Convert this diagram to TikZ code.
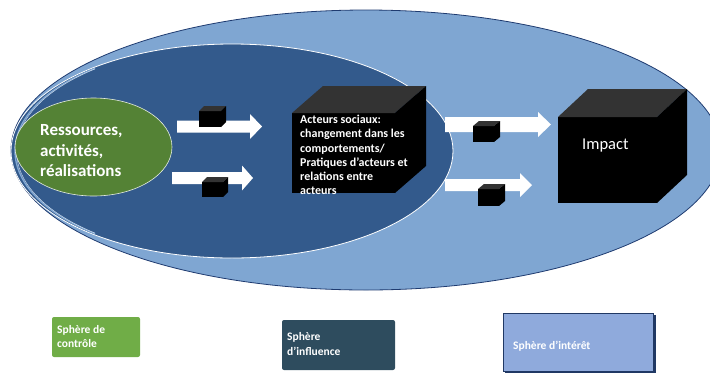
\documentclass[tikz,border=0pt]{standalone}
\usepackage{fontspec}
\setmainfont{Carlito}
\usetikzlibrary{shapes.geometric}

\definecolor{interestfill}{HTML}{7FA6D2}
\definecolor{interestline}{HTML}{1F3B70}
\definecolor{influencefill}{HTML}{335A8C}
\definecolor{controlfill}{HTML}{548235}
\definecolor{keygreen}{HTML}{70AD47}
\definecolor{keydark}{HTML}{2E4C5E}
\definecolor{keyblue}{HTML}{8FAADC}
\definecolor{keyline}{HTML}{203864}
\definecolor{cubetopgrey}{HTML}{333333}

% a cube seen from the front: #1 name, #2,#3 top-left corner of the front face,
% #4 width, #5 height, #6,#7 depth offset (right, up)
\newcommand\drawcube[7]{%
  \node[cubefront, minimum width=#4pt, minimum height=#5pt, anchor=north west] (#1) at (#2,#3) {};
  \fill[cubetopgrey] (#1.north west) -- ++(#6,-#7) -- ([shift={(#6,-#7)}]#1.north east) -- (#1.north east) -- cycle;
  \fill[black] (#1.north east) -- ([shift={(#6,-#7)}]#1.north east) -- ([shift={(#6,-#7)}]#1.south east) -- (#1.south east) -- cycle;
}
% a white block arrow: #1 tail x, #2 tip x, #3 middle y, #4 half shaft, #5 half head, #6 head base x
\newcommand\blkarrow[6]{%
  \fill[white] ({#1},{#3-#4}) -- ({#6},{#3-#4}) -- ({#6},{#3-#5}) -- ({#2},{#3})
    -- ({#6},{#3+#5}) -- ({#6},{#3+#4}) -- ({#1},{#3+#4}) -- cycle;
}

\begin{document}
\begin{tikzpicture}[x=1pt,y=-1pt,
  sphere/.style={ellipse, inner sep=0pt, outer sep=0pt},
  cubefront/.style={fill=black, inner sep=0pt, outer sep=0pt},
  keybox/.style={inner sep=0pt, outer sep=0pt, anchor=north west},
  keytext/.style={anchor=west, align=left, inner sep=0pt, text=white,
    font=\bfseries\fontsize{11.5}{14}\selectfont},
]
\useasboundingbox (0,0) rectangle (710,373);
\begin{scope}
  \clip (0,0) rectangle (710,373);
  % sphere of interest
  \node[sphere, draw=interestline, line width=0.8pt, fill=interestfill,
        minimum width=710pt, minimum height=280pt] (interest) at (366,150) {};
  % sphere of influence
  \node[sphere, draw=white, line width=0.8pt, fill=influencefill,
        minimum width=442pt, minimum height=214pt] (influence) at (232,151) {};
  % light rim along the left side of the sphere of influence
  \begin{scope}
    \clip (0,0) rectangle (95,373);
    \draw[interestfill, line width=1.4pt] (234,151) ellipse [x radius=219pt, y radius=107pt];
    \draw[white!70!interestfill, line width=0.4pt] (235.5,151) ellipse [x radius=219pt, y radius=107pt];
  \end{scope}
  % sphere of control
  \node[sphere, draw=white!85!controlfill, line width=0.6pt, fill=controlfill,
        minimum width=157pt, minimum height=98pt] (control) at (93.5,147) {};
\end{scope}

\node[anchor=west, align=left, inner sep=0pt, text=white,
      font=\bfseries\fontsize{17}{20.5}\selectfont] (resources) at (40,151)
      {Ressources,\\activités,\\réalisations};

% arrows between the spheres
\blkarrow{177}{262}{126.5}{6}{12.5}{250}
\blkarrow{172}{253}{178}{6}{12.5}{242}
\blkarrow{445}{551}{124.5}{7.5}{12.5}{538}
\blkarrow{445}{532}{185}{6}{12}{520}

% small cubes on the arrows
\drawcube{c1}{199}{111}{22}{16}{5}{5}
\drawcube{c2}{202}{182}{21}{15}{5}{5}
\drawcube{c3}{473}{126}{21}{16}{6}{5}
\drawcube{c4}{478}{189}{21}{17}{6}{5}

% social actors
\drawcube{actors}{292}{113}{103}{80}{31}{27}
\node[anchor=north west, align=left, inner sep=0pt, text=white,
      font=\bfseries\fontsize{12}{14.2}\selectfont] (actorstext)
      at ([shift={(8,2)}]actors.north west)
      {Acteurs sociaux:\\changement dans les\\comportements/\\Pratiques d’acteurs et\\relations entre\\acteurs};

% impact
\drawcube{impact}{558}{117}{99}{86}{30}{28}
\node[anchor=west, inner sep=0pt, text=white, font=\fontsize{16.5}{20}\selectfont]
      (impacttext) at (582,146) {Impact};

% key
\node[keybox, fill=keygreen, rounded corners=2pt, minimum width=88pt, minimum height=40pt]
      (keycontrol) at (52,317) {};
\node[keytext] (keycontroltext) at ([shift={(5,0)}]keycontrol.west) {Sphère de\\contrôle};

\node[keybox, fill=keydark, rounded corners=2pt, minimum width=113pt, minimum height=50pt]
      (keyinfluence) at (282,320) {};
\node[keytext] (keyinfluencetext) at ([shift={(5,-1)}]keyinfluence.west) {Sphère\\d’influence};

\fill[keyline] (505,315) rectangle (656,373);
\node[keybox, fill=keyblue, draw=keyline, line width=0.8pt, minimum width=150pt, minimum height=58pt]
      (keyinterest) at (503,313) {};
\node[keytext] (keyinteresttext) at ([shift={(10,4)}]keyinterest.west) {Sphère d’intérêt};
\end{tikzpicture}
\end{document}
